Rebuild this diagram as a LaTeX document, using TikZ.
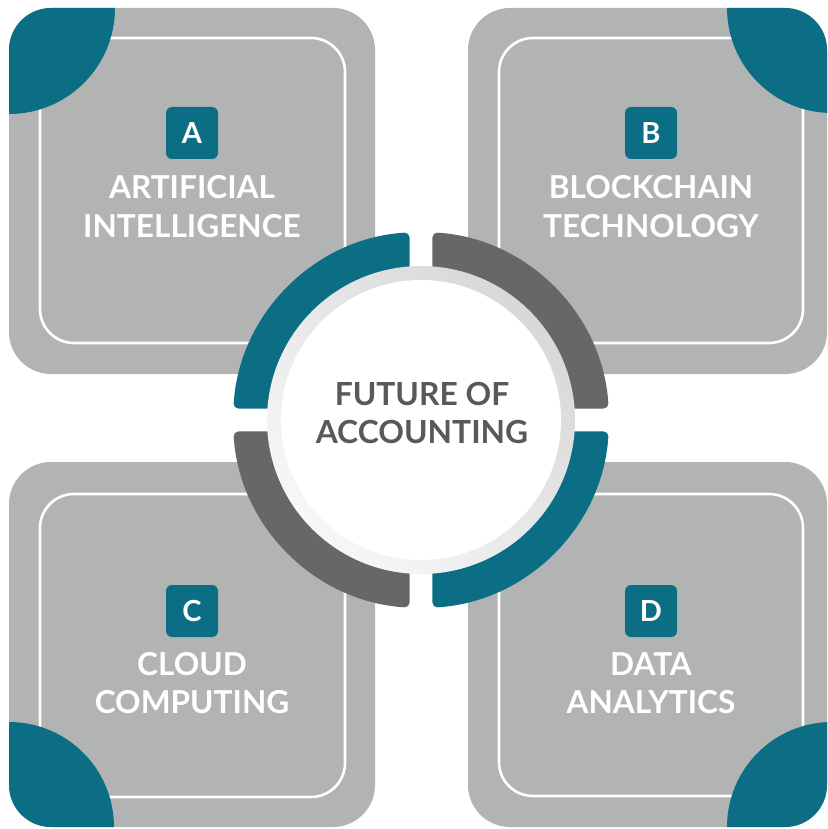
\documentclass[tikz,border=0pt]{standalone}
\usepackage{fontspec}
\setmainfont{Lato}
\usetikzlibrary{calc}
\definecolor{tealc}{HTML}{0B6E85}
\definecolor{darkarc}{HTML}{686766}
\definecolor{boxgray}{HTML}{B2B3B3}
\definecolor{ctext}{HTML}{595959}
\definecolor{ringA}{HTML}{D8D8D8}
\definecolor{ringB}{HTML}{F7F7F7}
\tikzset{
  outerbox/.style={fill=boxgray, rounded corners=42pt},
  innerbox/.style={draw=white, line width=2.6pt, rounded corners=34pt},
  badge/.style={fill=tealc, rounded corners=6pt, minimum width=52pt, minimum height=52pt, inner sep=0pt, text=white, font=\bfseries\fontsize{29}{29}\selectfont},
  ttl/.style={anchor=base, inner sep=0pt, text=white, font=\bfseries\fontsize{31.6}{31.6}\selectfont},
  ctl/.style={anchor=base, inner sep=0pt, text=ctext, font=\bfseries\fontsize{31.8}{31.8}\selectfont},
  seg/.style={rounded corners=5pt},
}
\newcommand{\ringseg}[2]{%
  \fill[seg, fill=#1] ($(C)+(#2+3.51:188)$) arc[start angle=#2+3.51, end angle=#2+86.49, radius=188]
    -- ($(C)+(#2+85.6:148)$) arc[start angle=#2+85.6, end angle=#2+4.4, radius=148] -- cycle;}
\begin{document}
\begin{tikzpicture}[x=1pt,y=-1pt]
\useasboundingbox (0,0) rectangle (827,829);
\fill[white] (0,0) rectangle (827,829);
% boxes
\fill[outerbox] (9,8) rectangle (375,374);
\fill[outerbox] (468,8) rectangle (827,374);
\fill[outerbox] (9,462) rectangle (375,827);
\fill[outerbox] (468,462) rectangle (827,827);
% inner outlines
\draw[innerbox] (40,38) rectangle (345,343);
\draw[innerbox] (499,38) rectangle (803,343);
\draw[innerbox] (40,494) rectangle (345,797);
\draw[innerbox] (499,494) rectangle (803,796);
% teal corners
\begin{scope}
  \clip[rounded corners=42pt] (9,8) rectangle (375,374);
  \fill[tealc] (9,8) circle[radius=106];
\end{scope}
\begin{scope}
  \clip[rounded corners=42pt] (468,8) rectangle (827,374);
  \fill[tealc] (832,8) circle[radius=105];
\end{scope}
\begin{scope}
  \clip[rounded corners=42pt] (9,462) rectangle (375,827);
  \fill[tealc] (9,827) circle[radius=105];
\end{scope}
\begin{scope}
  \clip[rounded corners=42pt] (468,462) rectangle (827,827);
  \fill[tealc] (832,827) circle[radius=105];
\end{scope}
% center ring
\coordinate (C) at (421,420);
\ringseg{tealc}{180}
\ringseg{darkarc}{270}
\ringseg{tealc}{0}
\ringseg{darkarc}{90}
\shade[left color=ringA, right color=ringB, shading angle=-45] (C) circle[radius=154];
\fill[white] (C) circle[radius=140];
% badges
\node[badge] (ba) at (192,133) {A};
\node[badge] (bb) at (651,133) {B};
\node[badge] (bc) at (192,611) {C};
\node[badge] (bd) at (651,611) {D};
% titles
\node[ttl] (a1) at (192,198) {ARTIFICIAL};
\node[ttl] (a2) at (192,237) {INTELLIGENCE};
\node[ttl] (b1) at (651,198) {BLOCKCHAIN};
\node[ttl] (b2) at (651,237) {TECHNOLOGY};
\node[ttl] (c1) at (192,675) {CLOUD};
\node[ttl] (c2) at (192,713) {COMPUTING};
\node[ttl] (d1) at (651,675) {DATA};
\node[ttl] (d2) at (651,713) {ANALYTICS};
\node[ctl] (f1) at (422,405) {FUTURE OF};
\node[ctl] (f2) at (422,443) {ACCOUNTING};
\end{tikzpicture}
\end{document}
